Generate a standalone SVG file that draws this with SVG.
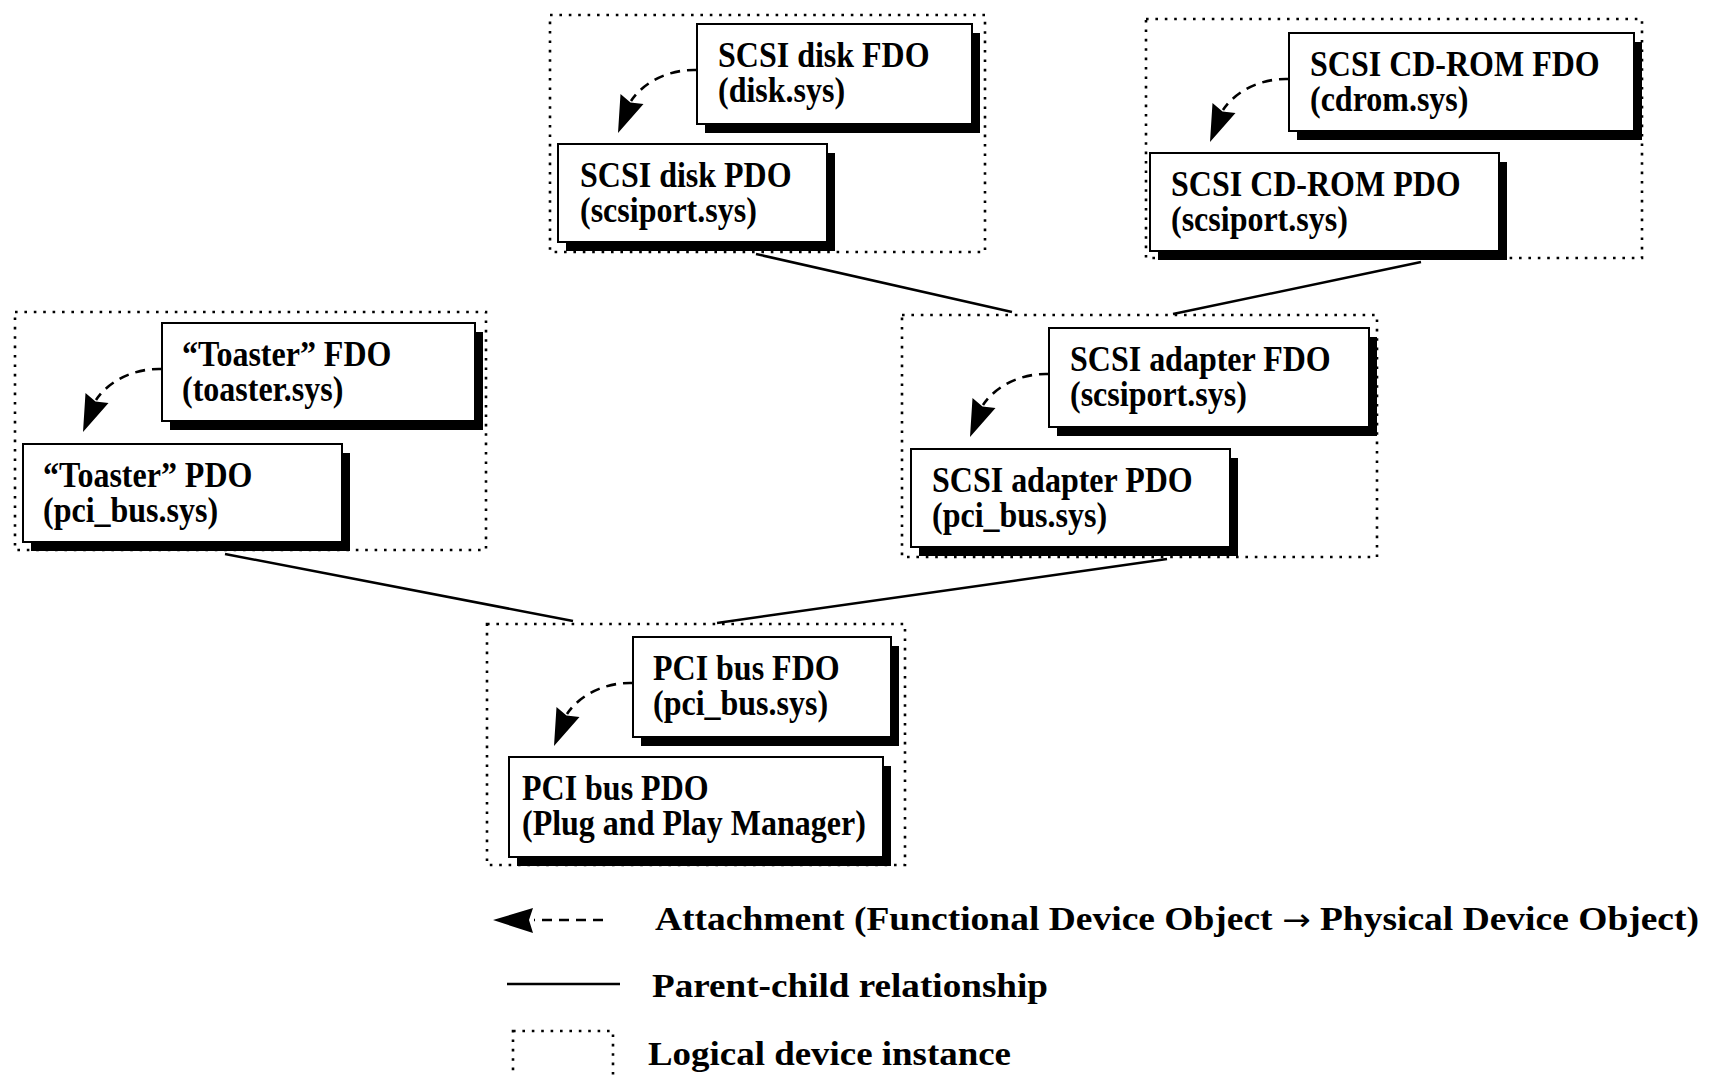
<svg xmlns="http://www.w3.org/2000/svg" xmlns:xlink="http://www.w3.org/1999/xlink" width="1714" height="1077" viewBox="0 0 1714 1077">
  <style>
    .bg { fill: #ffffff; }
    .inst { fill: none; stroke: #000; stroke-width: 2.6; stroke-dasharray: 2.6 6.8; }
    .shadow { fill: #000; }
    .box { fill: #fff; stroke: #000; stroke-width: 2; }
    .link { fill: none; stroke: #000; stroke-width: 2.5; }
    .attach { fill: none; stroke: #000; stroke-width: 2.6; stroke-dasharray: 10 7; }
    .head { fill: #000; }
    text { font-family: "Liberation Serif", "Times New Roman", "DejaVu Serif", serif; font-weight: bold; font-size: 32px; fill: #000; }
    .legend { font-size: 33px; }
    .sym { font-family: "DejaVu Sans", sans-serif; font-weight: normal; font-size: 30px; }
  </style>
  <defs>
    <!-- dashed attachment arrow, origin at the FDO's left edge -->
    <g id="attach-arrow">
      <path class="attach" d="M0,0 C-25,-1 -52,10 -66,31"/>
      <polygon class="head" points="-79,63 -76.5,24 -66.5,32.5 -53.5,34"/>
    </g>
  </defs>

  <rect class="bg" x="0" y="0" width="1714" height="1077"/>

  <!-- parent-child links and attachment arrows -->
  <g id="connectors">
    <line class="link" x1="756" y1="254" x2="1012" y2="312"/>
    <line class="link" x1="1421" y1="262" x2="1173" y2="314"/>
    <line class="link" x1="225" y1="554" x2="573" y2="621"/>
    <line class="link" x1="1167" y1="559" x2="717" y2="623"/>
  </g>

  <!-- SCSI disk device instance -->
  <g id="inst-scsi-disk">
    <rect class="inst" x="550" y="15" width="435" height="237"/>
    <g id="scsi-disk-fdo">
      <rect class="shadow" x="705" y="33" width="275" height="100"/>
      <rect class="box" x="697" y="24" width="275" height="100"/>
      <text transform="translate(718,67) scale(1,1.1)"><tspan x="0" y="0">SCSI disk FDO</tspan><tspan x="0" y="31.8">(disk.sys)</tspan></text>
    </g>
    <g id="scsi-disk-pdo">
      <rect class="shadow" x="566" y="153" width="269" height="98"/>
      <rect class="box" x="558" y="144" width="269" height="98"/>
      <text transform="translate(580,187) scale(1,1.1)"><tspan x="0" y="0">SCSI disk PDO</tspan><tspan x="0" y="31.8">(scsiport.sys)</tspan></text>
    </g>
  </g>

  <!-- SCSI CD-ROM device instance -->
  <g id="inst-scsi-cdrom">
    <rect class="inst" x="1146" y="19" width="496" height="239"/>
    <g id="scsi-cdrom-fdo">
      <rect class="shadow" x="1297" y="42" width="345" height="98"/>
      <rect class="box" x="1289" y="33" width="345" height="98"/>
      <text transform="translate(1310,76) scale(1,1.1)"><tspan x="0" y="0">SCSI CD-ROM FDO</tspan><tspan x="0" y="31.8">(cdrom.sys)</tspan></text>
    </g>
    <g id="scsi-cdrom-pdo">
      <rect class="shadow" x="1158" y="162" width="349" height="98"/>
      <rect class="box" x="1150" y="153" width="349" height="98"/>
      <text transform="translate(1171,196) scale(1,1.1)"><tspan x="0" y="0">SCSI CD-ROM PDO</tspan><tspan x="0" y="31.8">(scsiport.sys)</tspan></text>
    </g>
  </g>

  <!-- Toaster device instance -->
  <g id="inst-toaster">
    <rect class="inst" x="15" y="312" width="471" height="238"/>
    <g id="toaster-fdo">
      <rect class="shadow" x="170" y="332" width="313" height="98"/>
      <rect class="box" x="162" y="323" width="313" height="98"/>
      <text transform="translate(182,366) scale(1,1.1)"><tspan x="0" y="0">“Toaster” FDO</tspan><tspan x="0" y="31.8">(toaster.sys)</tspan></text>
    </g>
    <g id="toaster-pdo">
      <rect class="shadow" x="31" y="453" width="319" height="98"/>
      <rect class="box" x="23" y="444" width="319" height="98"/>
      <text transform="translate(43,487) scale(1,1.1)"><tspan x="0" y="0">“Toaster” PDO</tspan><tspan x="0" y="31.8">(pci_bus.sys)</tspan></text>
    </g>
  </g>

  <!-- SCSI adapter device instance -->
  <g id="inst-scsi-adapter">
    <rect class="inst" x="902" y="315" width="475" height="242"/>
    <g id="scsi-adapter-fdo">
      <rect class="shadow" x="1057" y="337" width="320" height="99"/>
      <rect class="box" x="1049" y="328" width="320" height="99"/>
      <text transform="translate(1070,371) scale(1,1.1)"><tspan x="0" y="0">SCSI adapter FDO</tspan><tspan x="0" y="31.8">(scsiport.sys)</tspan></text>
    </g>
    <g id="scsi-adapter-pdo">
      <rect class="shadow" x="919" y="458" width="319" height="98"/>
      <rect class="box" x="911" y="449" width="319" height="98"/>
      <text transform="translate(932,492) scale(1,1.1)"><tspan x="0" y="0">SCSI adapter PDO</tspan><tspan x="0" y="31.8">(pci_bus.sys)</tspan></text>
    </g>
  </g>

  <!-- PCI bus device instance -->
  <g id="inst-pci-bus">
    <rect class="inst" x="487" y="624" width="418" height="241"/>
    <g id="pci-bus-fdo">
      <rect class="shadow" x="641" y="646" width="258" height="100"/>
      <rect class="box" x="633" y="637" width="258" height="100"/>
      <text transform="translate(653,680) scale(1,1.1)"><tspan x="0" y="0">PCI bus FDO</tspan><tspan x="0" y="31.8">(pci_bus.sys)</tspan></text>
    </g>
    <g id="pci-bus-pdo">
      <rect class="shadow" x="517" y="766" width="374" height="100"/>
      <rect class="box" x="509" y="757" width="374" height="100"/>
      <text transform="translate(522,800) scale(1,1.1)"><tspan x="0" y="0">PCI bus PDO</tspan><tspan x="0" y="31.8">(Plug and Play Manager)</tspan></text>
    </g>
  </g>

  <!-- FDO to PDO attachments -->
  <g id="attachments">
    <use xlink:href="#attach-arrow" transform="translate(697,70)"/>
    <use xlink:href="#attach-arrow" transform="translate(1289,79)"/>
    <use xlink:href="#attach-arrow" transform="translate(162,369)"/>
    <use xlink:href="#attach-arrow" transform="translate(1049,374)"/>
    <use xlink:href="#attach-arrow" transform="translate(633,683)"/>
  </g>

  <!-- key -->
  <g id="legend">
    <g id="legend-attach">
      <line class="attach" x1="534" y1="920" x2="608" y2="920" stroke-dasharray="10 8" style="stroke-dashoffset:-8"/>
      <polygon class="head" points="493,920 533,908 529,920 533,933"/>
      <text class="legend" x="655" y="930" textLength="1044" lengthAdjust="spacingAndGlyphs">Attachment (Functional Device Object <tspan class="sym">→</tspan> Physical Device Object)</text>
    </g>
    <g id="legend-link">
      <line class="link" x1="507" y1="984" x2="620" y2="984"/>
      <text class="legend" x="652" y="997" textLength="396" lengthAdjust="spacingAndGlyphs">Parent-child relationship</text>
    </g>
    <g id="legend-inst">
      <rect class="inst" x="513" y="1031" width="100" height="70"/>
      <text class="legend" x="648" y="1065" textLength="363" lengthAdjust="spacingAndGlyphs">Logical device instance</text>
    </g>
  </g>
</svg>
